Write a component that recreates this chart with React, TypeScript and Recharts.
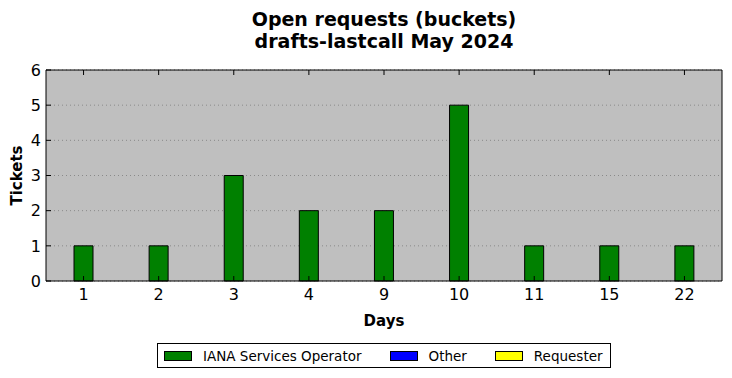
import { BarChart, Bar, XAxis, YAxis, CartesianGrid } from "recharts"

const days = ["1", "2", "3", "4", "9", "10", "11", "15", "22"]
const ianaOperator = [1, 1, 3, 2, 2, 5, 1, 1, 1]
const other = [0, 0, 0, 0, 0, 0, 0, 0, 0]
const requester = [0, 0, 0, 0, 0, 0, 0, 0, 0]
const yTicks = [0, 1, 2, 3, 4, 5, 6]

const SERIES = [
  { key: "iana", name: "IANA Services Operator", color: "#008000" },
  { key: "other", name: "Other", color: "#0000ff" },
  { key: "requester", name: "Requester", color: "#ffff00" },
]

const data = days.map((d, i) => ({ day: d, iana: ianaOperator[i], other: other[i], requester: requester[i] }))

const FONT = "'DejaVu Sans', sans-serif"
const blank = () => <g />

export default function App() {
  return (
    <div style={{ position: "absolute", left: 0, top: 0, width: 732, height: 378, background: "#fff", fontFamily: FONT }}>
      <div style={{ position: "absolute", left: 46, width: 676, top: 8, textAlign: "center", fontWeight: "bold", fontSize: 19, lineHeight: "22px", color: "#000" }}>
        Open requests (buckets)<br />drafts-lastcall May 2024
      </div>
      <BarChart width={732} height={378} data={data} margin={{ top: 69, left: 6, right: 9, bottom: 52 }} barSize={19}>
        <CartesianGrid horizontal vertical={false} fill="#bfbfbf" stroke="#8a8a8a" strokeDasharray="1 3" fillOpacity={1} />
        <XAxis dataKey="day" height={45} stroke="#000" tickSize={-5} tickMargin={13} tick={{ fill: "#000", fontSize: 16 }}
          label={{ value: "Days", position: "insideBottom", offset: 0, style: { fontWeight: "bold", fontSize: 15, fill: "#000" } }} />
        <XAxis xAxisId="top" dataKey="day" orientation="top" height={1} stroke="#000" tickSize={-5} tick={blank} />
        <YAxis domain={[0, 6]} ticks={yTicks} width={40} stroke="#000" tickSize={-5} tickMargin={10} tick={{ fill: "#000", fontSize: 16 }}
          label={{ value: "Tickets", angle: -90, position: "insideLeft", offset: 11, style: { fontWeight: "bold", fontSize: 15, fill: "#000", textAnchor: "middle" } }} />
        <YAxis yAxisId="right" orientation="right" domain={[0, 6]} ticks={yTicks} width={1} stroke="#000" tickSize={-5} tick={blank} />
        {SERIES.map((s) => (
          <Bar key={s.key} dataKey={s.key} name={s.name} stackId="a" fill={s.color} stroke="#000" strokeWidth={1} isAnimationActive={false} />
        ))}
      </BarChart>
      <div style={{ position: "absolute", left: 157, top: 343, width: 452, height: 23, border: "1px solid #000", display: "flex", alignItems: "center", fontSize: 13.5, color: "#000", boxSizing: "content-box", whiteSpace: "nowrap" }}>
        {SERIES.map((s, i) => (
          <div key={s.key} style={{ display: "flex", alignItems: "center", flexShrink: 0, marginLeft: i === 0 ? 6 : 28 }}>
            <div style={{ width: 26, height: 8, background: s.color, border: "1px solid #000", marginRight: 11, flexShrink: 0 }} />
            {s.name}
          </div>
        ))}
      </div>
    </div>
  )
}
